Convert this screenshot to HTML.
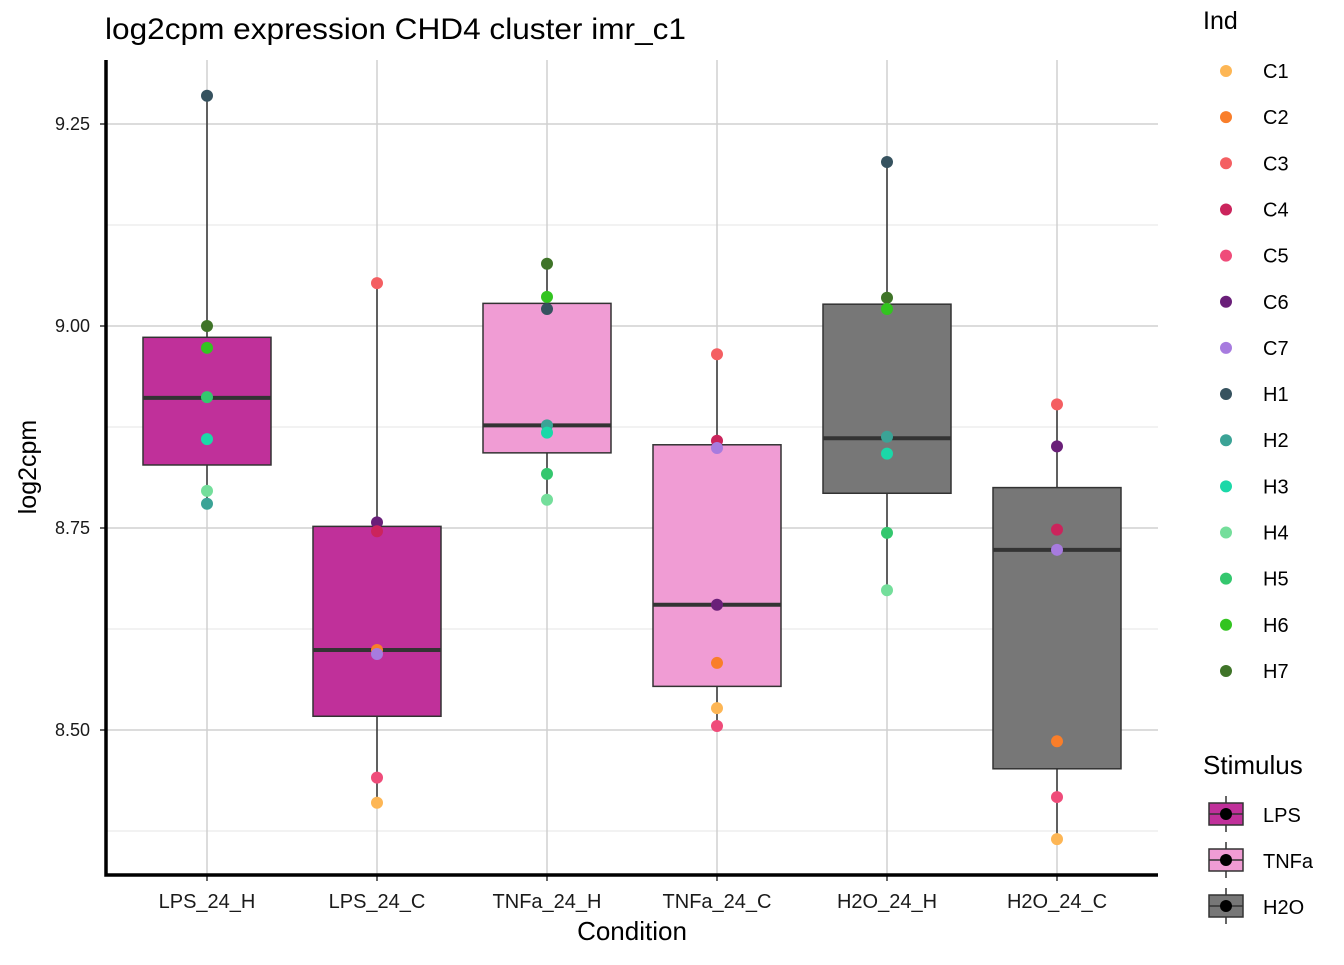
<!DOCTYPE html>
<html><head><meta charset="utf-8"><style>
body{margin:0;background:#fff;}
svg text{font-family:"Liberation Sans",sans-serif;}
</style></head><body>
<svg id="c" width="1344" height="960" xmlns="http://www.w3.org/2000/svg"></svg>
<script>
const categories=["LPS_24_H","LPS_24_C","TNFa_24_H","TNFa_24_C","H2O_24_H","H2O_24_C"];
const stimulus=["LPS","LPS","TNFa","TNFa","H2O","H2O"];
const q1=[8.828,8.517,8.843,8.554,8.793,8.452];
const med=[8.911,8.599,8.877,8.655,8.861,8.723];
const q3=[8.986,8.752,9.028,8.853,9.027,8.800];
const wlo=[8.780,8.410,8.785,8.505,8.673,8.365];
const whi=[9.285,9.053,9.077,8.965,9.203,8.903];
const pointInd=[["H1","H7","H6","H5","H3","H4","H2"],["C3","C6","C4","C2","C7","C5","C1"],["H7","H6","H1","H2","H3","H5","H4"],["C3","C4","C7","C6","C2","C1","C5"],["H1","H7","H6","H2","H3","H5","H4"],["C3","C6","C4","C7","C2","C5","C1"]];
const pointVal=[[9.285,9.0,8.973,8.912,8.860,8.796,8.780],[9.053,8.757,8.746,8.599,8.594,8.441,8.410],[9.077,9.036,9.021,8.877,8.868,8.817,8.785],[8.965,8.858,8.849,8.655,8.583,8.527,8.505],[9.203,9.035,9.021,8.863,8.842,8.744,8.673],[8.903,8.851,8.748,8.723,8.486,8.417,8.365]];
const yTicks=[8.5,8.75,9.0,9.25];
const yTickLabels=["8.50","8.75","9.00","9.25"];
const indNames=["C1","C2","C3","C4","C5","C6","C7","H1","H2","H3","H4","H5","H6","H7"];
const indColors=["#FDB655","#F97E2A","#F45F62","#CB245C","#EF4C7A","#6A1F79","#A77BDF","#36525F","#3BA396","#1BD8A8","#74DE9B","#34C76E","#33C420","#3F7428"];
const stimNames=["LPS","TNFa","H2O"];
const stimColors={"LPS":"#C0309A","TNFa":"#F09CD4","H2O":"#777777"};
const svg=document.getElementById('c');const NS="http://www.w3.org/2000/svg";
function el(t,a,p){const e=document.createElementNS(NS,t);for(const k in a)e.setAttribute(k,a[k]);(p||svg).appendChild(e);return e;}
const L=106,R=1158,T=60,B=875;
const y=v=>326-(v-9)*808;
const x=i=>207+i*170;
const bw=128;
for(const v of [8.375,8.625,8.875,9.125]){const g=el('line',{x1:L,x2:R,y1:y(v),y2:y(v),stroke:'#e6e6e6','stroke-width':1});}
yTicks.forEach(v=>{const g=el('line',{x1:L,x2:R,y1:y(v),y2:y(v),stroke:'#d0d0d0','stroke-width':1.5});});
categories.forEach((c,i)=>{const g=el('line',{x1:x(i),x2:x(i),y1:T,y2:B,stroke:'#d0d0d0','stroke-width':1.5});});
categories.forEach((c,i)=>{
 const w1=el('line',{x1:x(i),x2:x(i),y1:y(whi[i]),y2:y(wlo[i]),stroke:'#333','stroke-width':1.5});
 
 const r=el('rect',{x:x(i)-bw/2,y:y(q3[i]),width:bw,height:y(q1[i])-y(q3[i]),fill:stimColors[stimulus[i]],stroke:'#333','stroke-width':1.5});
 
 const m=el('line',{x1:x(i)-bw/2,x2:x(i)+bw/2,y1:y(med[i]),y2:y(med[i]),stroke:'#333','stroke-width':4});
 
 pointInd[i].forEach((n,j)=>{const p=el('circle',{cx:x(i),cy:y(pointVal[i][j]),r:6,fill:indColors[indNames.indexOf(n)]});
  });
 const t=el('text',{x:x(i),y:908,'font-size':20,'text-anchor':'middle',fill:'#1a1a1a'});t.textContent=c;
 
 const tk=el('line',{x1:x(i),x2:x(i),y1:B,y2:B+6,stroke:'#333','stroke-width':1.5});
});
yTicks.forEach((v,i)=>{const t=el('text',{x:90,y:y(v)+6,'font-size':18,'text-anchor':'end',fill:'#1a1a1a'});t.textContent=yTickLabels[i];
 
 const tk=el('line',{x1:L-6,x2:L,y1:y(v),y2:y(v),stroke:'#333','stroke-width':1.5});});
const ax=el('path',{d:`M${L},${T} V${B} H${R}`,fill:'none',stroke:'#000','stroke-width':3.5});
let t;
t=el('text',{x:105,y:39,'font-size':30,fill:'#000',textLength:581,lengthAdjust:'spacingAndGlyphs'});t.textContent='log2cpm expression CHD4 cluster imr_c1';
t=el('text',{x:632,y:940,'font-size':26,'text-anchor':'middle',fill:'#000'});t.textContent='Condition';
t=el('text',{x:0,y:0,'font-size':25,'text-anchor':'middle',fill:'#000',transform:'translate(36,467) rotate(-90)'});t.textContent='log2cpm';
t=el('text',{x:1203,y:29,'font-size':25,fill:'#000'});t.textContent='Ind';
indNames.forEach((n,i)=>{const yy=71+i*46.15;const g=el('g',{});
 el('circle',{cx:1226,cy:yy,r:6,fill:indColors[i]},g);const tt=el('text',{x:1263,y:yy+7,'font-size':20,fill:'#000'},g);tt.textContent=n;});
t=el('text',{x:1203,y:774,'font-size':26,fill:'#000'});t.textContent='Stimulus';
stimNames.forEach((n,i)=>{const yy=814+i*46;const g=el('g',{});
 el('line',{x1:1226,x2:1226,y1:yy-18,y2:yy+18,stroke:'#333','stroke-width':1.5},g);
 el('rect',{x:1209,y:yy-11,width:34,height:22,fill:stimColors[n],stroke:'#333','stroke-width':1.5},g);
 el('line',{x1:1209,x2:1243,y1:yy,y2:yy,stroke:'#333','stroke-width':1.5},g);
 el('circle',{cx:1226,cy:yy,r:6,fill:'#000'},g);
 const tt=el('text',{x:1263,y:yy+8,'font-size':20,fill:'#000'},g);tt.textContent=n;});
</script>
</body></html>
